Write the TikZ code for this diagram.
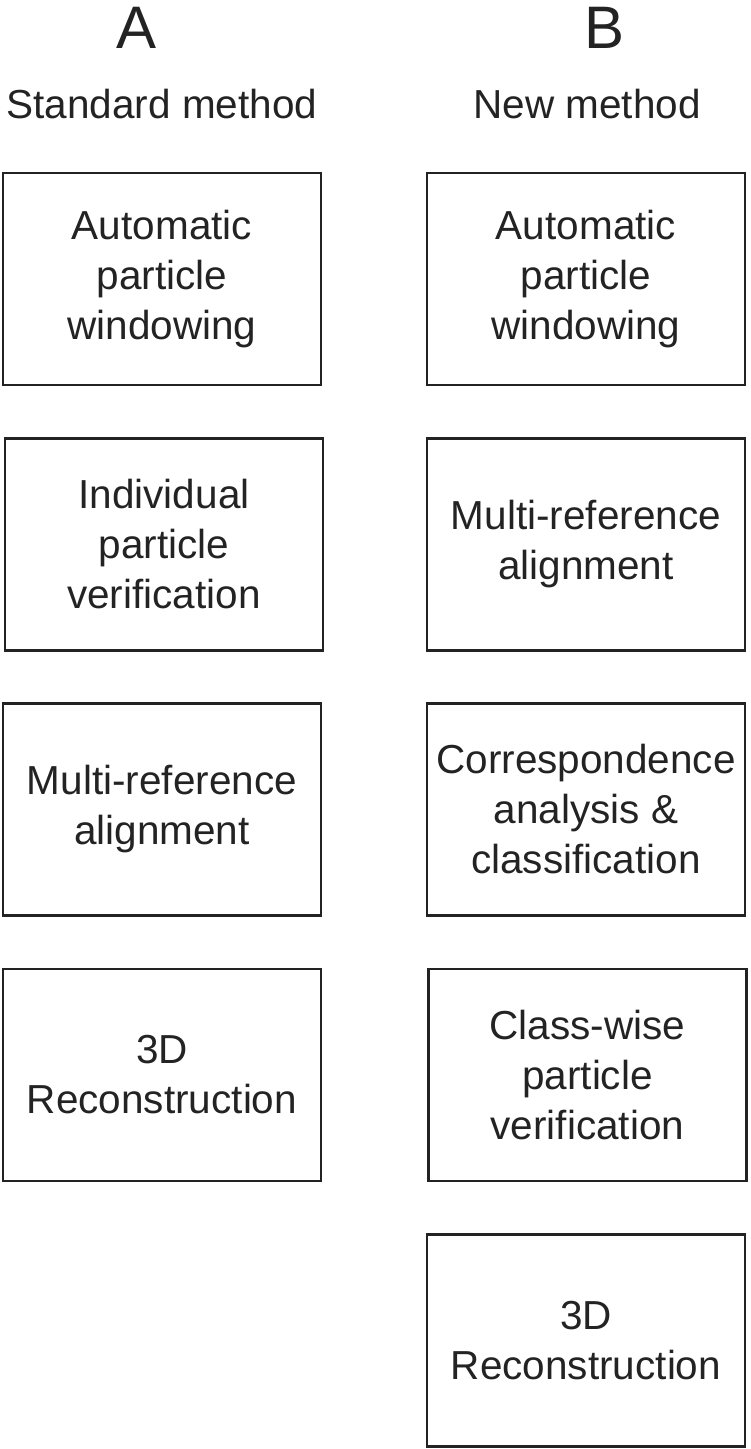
\documentclass[tikz,border=0pt]{standalone}
\usepackage{fontspec}
\setmainfont{Liberation Sans}
\usepackage{tikz}

\begin{document}
\begin{tikzpicture}[x=1pt, y=-1pt]
  \definecolor{inkgray}{RGB}{35,35,35}
  \tikzset{
    stepbox/.style={draw=inkgray, line width=2.6pt, text=inkgray,
      minimum width=318pt, minimum height=212pt, align=center,
      font=\fontsize{40.5pt}{50pt}\selectfont},
    colhead/.style={text=inkgray, inner sep=0pt,
      font=\fontsize{40.5pt}{50pt}\selectfont},
    colletter/.style={text=inkgray, inner sep=0pt,
      font=\fontsize{60pt}{70pt}\selectfont}
  }
  \useasboundingbox (0,0) rectangle (750,1449);
  % headings
  \node[colletter, anchor=base] (letA) at (137,48) {A};
  \node[colhead, anchor=base] (headA) at (162,118) {Standard method};
  \node[colletter, anchor=base] (letB) at (605,48) {B};
  \node[colhead, anchor=base] (headB) at (587,118) {New method};
  % standard method
  \node[stepbox] (a1) at (162,279) {Automatic\\particle\\windowing};
  \node[stepbox] (a2) at (164,544.5) {Individual\\particle\\verification};
  \node[stepbox] (a3) at (162,809.5) {Multi-reference\\alignment};
  \node[stepbox] (a4) at (162,1075) {3D\\Reconstruction};
  % new method
  \node[stepbox] (b1) at (586,279) {Automatic\\particle\\windowing};
  \node[stepbox] (b2) at (586,544.5) {Multi-reference\\alignment};
  \node[stepbox] (b3) at (586,809.5) {Correspondence\\analysis \&\\classification};
  \node[stepbox] (b4) at (587.5,1075) {Class-wise\\particle\\verification};
  \node[stepbox] (b5) at (586,1340.5) {3D\\Reconstruction};
\end{tikzpicture}
\end{document}
